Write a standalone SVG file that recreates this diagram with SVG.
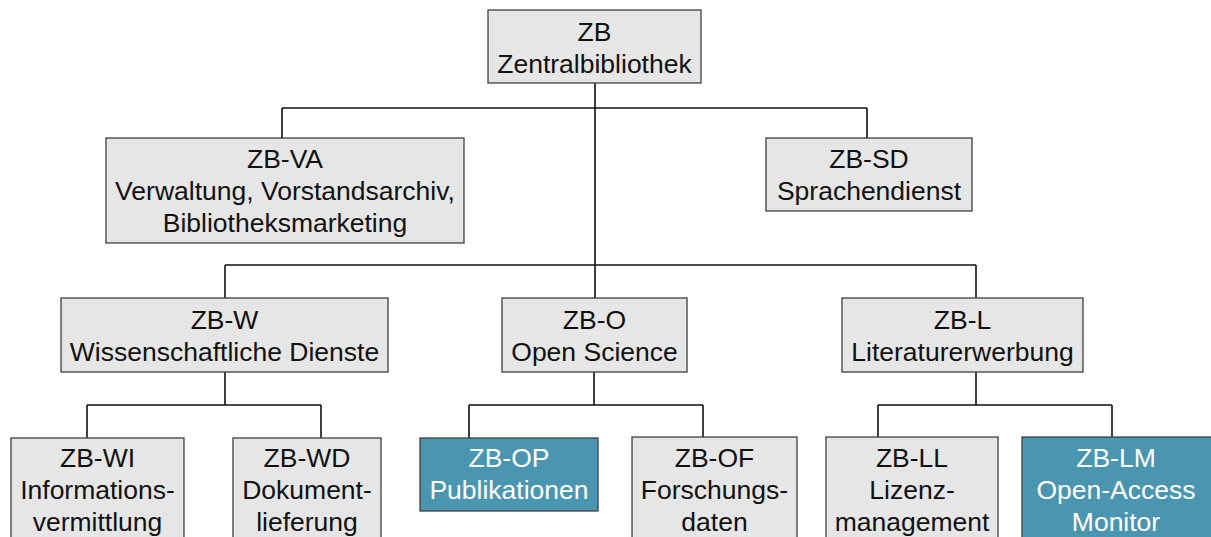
<svg xmlns="http://www.w3.org/2000/svg" width="1211" height="537" viewBox="0 0 1211 537">
<style>
.box{fill:#e6e6e6;stroke:#404040;stroke-width:1.3}
.hl{fill:#4a96b1;stroke:#404040;stroke-width:1.3}
text{font-family:"Liberation Sans",Arial,sans-serif;font-size:26.5px;text-anchor:middle;fill:#111}
.w{fill:#fff}
.c{fill:none;stroke:#111;stroke-width:1.6}
</style>
<rect width="1211" height="537" fill="#fff"/>
<g id="connectors">
<path class="c" d="M595,83V298M282,108H867M282,108V138M867,108V138M225,265H976M225,265V298M976,265V298"/>
<path class="c" d="M225,372V405M87,405H321M87,405V438M321,405V438"/>
<path class="c" d="M594,372V405M469,405H703M469,405V438M703,405V437"/>
<path class="c" d="M976,372V405M878,405H1112M878,405V437M1112,405V437"/>
</g>
<g id="zb"><rect class="box" x="488" y="10" width="213" height="73"/><text x="594.5" y="41">ZB</text><text x="594.5" y="73">Zentralbibliothek</text></g>
<g id="zb-va"><rect class="box" x="106" y="138" width="358" height="105"/><text x="285" y="168">ZB-VA</text><text x="285" y="200">Verwaltung, Vorstandsarchiv,</text><text x="285" y="232">Bibliotheksmarketing</text></g>
<g id="zb-sd"><rect class="box" x="766" y="138" width="206" height="73"/><text x="869" y="168">ZB-SD</text><text x="869" y="200">Sprachendienst</text></g>
<g id="zb-w"><rect class="box" x="61" y="298" width="327" height="74"/><text x="224.5" y="329">ZB-W</text><text x="224.5" y="361">Wissenschaftliche Dienste</text></g>
<g id="zb-o"><rect class="box" x="502" y="298" width="185" height="74"/><text x="594.5" y="329">ZB-O</text><text x="594.5" y="361">Open Science</text></g>
<g id="zb-l"><rect class="box" x="842" y="298" width="241" height="74"/><text x="962.5" y="329">ZB-L</text><text x="962.5" y="361">Literaturerwerbung</text></g>
<g id="zb-wi"><rect class="box" x="11" y="438" width="173" height="110"/><text x="97.5" y="467">ZB-WI</text><text x="97.5" y="499">Informations-</text><text x="97.5" y="531">vermittlung</text></g>
<g id="zb-wd"><rect class="box" x="233" y="438" width="148" height="110"/><text x="307" y="467">ZB-WD</text><text x="307" y="499">Dokument-</text><text x="307" y="531">lieferung</text></g>
<g id="zb-op"><rect class="hl" x="420" y="438" width="178" height="73"/><text class="w" x="509" y="467">ZB-OP</text><text class="w" x="509" y="499">Publikationen</text></g>
<g id="zb-of"><rect class="box" x="632" y="437" width="165" height="110"/><text x="714.5" y="467">ZB-OF</text><text x="714.5" y="499">Forschungs-</text><text x="714.5" y="531">daten</text></g>
<g id="zb-ll"><rect class="box" x="826" y="437" width="172" height="110"/><text x="912" y="467">ZB-LL</text><text x="912" y="499">Lizenz-</text><text x="912" y="531">management</text></g>
<g id="zb-lm"><rect class="hl" x="1022" y="437" width="195" height="110"/><text class="w" x="1116" y="467">ZB-LM</text><text class="w" x="1116" y="499">Open-Access</text><text class="w" x="1116" y="531">Monitor</text></g>
</svg>
